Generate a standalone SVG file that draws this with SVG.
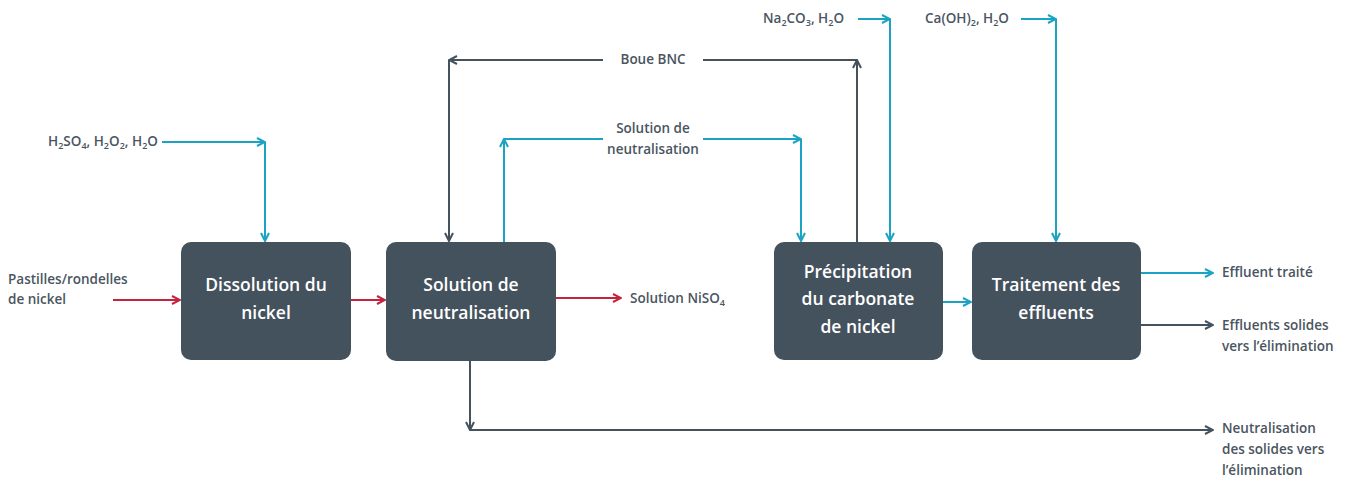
<svg xmlns="http://www.w3.org/2000/svg" width="1353" height="481" viewBox="0 0 1353 481">
<style>
.box{fill:#44525e}
.bt{font-family:"Open Sans","Liberation Sans",sans-serif;font-weight:600;font-size:17.5px;fill:#ffffff;text-anchor:middle}
.lb{font-family:"Open Sans","Liberation Sans",sans-serif;font-weight:600;font-size:13.5px;fill:#4a555f}
.sub{font-size:9px}
.red{stroke:#c4223f;stroke-width:2;fill:none}
.blue{stroke:#1ba3c4;stroke-width:2;fill:none}
.grey{stroke:#44525e;stroke-width:2;fill:none}
</style>
<defs>
<marker id="ar" viewBox="0 0 10 10" refX="9" refY="5" markerWidth="10" markerHeight="10" markerUnits="userSpaceOnUse" orient="auto"><path d="M1,1 L9,5 L1,9" fill="none" stroke="#c4223f" stroke-width="2"/></marker>
<marker id="ab" viewBox="0 0 10 10" refX="9" refY="5" markerWidth="10" markerHeight="10" markerUnits="userSpaceOnUse" orient="auto"><path d="M1,1 L9,5 L1,9" fill="none" stroke="#1ba3c4" stroke-width="2"/></marker>
<marker id="ag" viewBox="0 0 10 10" refX="9" refY="5" markerWidth="10" markerHeight="10" markerUnits="userSpaceOnUse" orient="auto"><path d="M1,1 L9,5 L1,9" fill="none" stroke="#44525e" stroke-width="2"/></marker>
</defs>
<rect width="1353" height="481" fill="#ffffff"/>

<g id="connectors">
<line class="red" x1="113" y1="300" x2="180" y2="300" marker-end="url(#ar)"/>
<line class="red" x1="351" y1="300" x2="385" y2="300" marker-end="url(#ar)"/>
<line class="red" x1="556" y1="298" x2="621" y2="298" marker-end="url(#ar)"/>
<line class="blue" x1="162" y1="142" x2="265" y2="142" marker-end="url(#ab)"/>
<line class="blue" x1="265" y1="142" x2="265" y2="241" marker-end="url(#ab)"/>
<line class="grey" x1="857" y1="242" x2="857" y2="60" marker-end="url(#ag)"/>
<line class="grey" x1="857" y1="60" x2="703" y2="60"/>
<line class="grey" x1="603" y1="60" x2="449" y2="60" marker-end="url(#ag)"/>
<line class="grey" x1="449" y1="60" x2="449" y2="241" marker-end="url(#ag)"/>
<line class="blue" x1="504" y1="242" x2="504" y2="139" marker-end="url(#ab)"/>
<line class="blue" x1="504" y1="139" x2="603" y2="139"/>
<line class="blue" x1="703" y1="139" x2="801" y2="139" marker-end="url(#ab)"/>
<line class="blue" x1="801" y1="139" x2="801" y2="241" marker-end="url(#ab)"/>
<line class="blue" x1="858" y1="19" x2="890" y2="19" marker-end="url(#ab)"/>
<line class="blue" x1="890" y1="19" x2="890" y2="241" marker-end="url(#ab)"/>
<line class="blue" x1="1021" y1="19" x2="1056" y2="19" marker-end="url(#ab)"/>
<line class="blue" x1="1056" y1="19" x2="1056" y2="241" marker-end="url(#ab)"/>
<line class="blue" x1="943" y1="302" x2="971" y2="302" marker-end="url(#ab)"/>
<line class="blue" x1="1141" y1="273" x2="1213" y2="273" marker-end="url(#ab)"/>
<line class="grey" x1="1141" y1="325" x2="1213" y2="325" marker-end="url(#ag)"/>
<line class="grey" x1="470" y1="361" x2="470" y2="430" marker-end="url(#ag)"/>
<line class="grey" x1="470" y1="430" x2="1213" y2="430" marker-end="url(#ag)"/>
</g>

<g id="labels">
<text class="lb" x="8" y="284">Pastilles/rondelles</text>
<text class="lb" x="8" y="304">de nickel</text>
<text class="lb" x="48" y="146">H<tspan class="sub" dy="3">2</tspan><tspan dy="-3">SO</tspan><tspan class="sub" dy="3">4</tspan><tspan dy="-3">, H</tspan><tspan class="sub" dy="3">2</tspan><tspan dy="-3">O</tspan><tspan class="sub" dy="3">2</tspan><tspan dy="-3">, H</tspan><tspan class="sub" dy="3">2</tspan><tspan dy="-3">O</tspan></text>
<text class="lb" x="630" y="303">Solution NiSO<tspan class="sub" dy="3">4</tspan></text>
<text class="lb" x="653" y="64" text-anchor="middle">Boue BNC</text>
<text class="lb" x="653" y="133" text-anchor="middle">Solution de</text>
<text class="lb" x="653" y="154" text-anchor="middle">neutralisation</text>
<text class="lb" x="763" y="23">Na<tspan class="sub" dy="3">2</tspan><tspan dy="-3">CO</tspan><tspan class="sub" dy="3">3</tspan><tspan dy="-3">, H</tspan><tspan class="sub" dy="3">2</tspan><tspan dy="-3">O</tspan></text>
<text class="lb" x="925" y="23">Ca(OH)<tspan class="sub" dy="3">2</tspan><tspan dy="-3">, H</tspan><tspan class="sub" dy="3">2</tspan><tspan dy="-3">O</tspan></text>
<text class="lb" x="1222" y="277">Effluent traité</text>
<text class="lb" x="1222" y="330">Effluents solides</text>
<text class="lb" x="1222" y="351">vers l’élimination</text>
<text class="lb" x="1222" y="433">Neutralisation</text>
<text class="lb" x="1222" y="454">des solides vers</text>
<text class="lb" x="1222" y="475">l’élimination</text>
</g>

<g id="dissolution">
<rect class="box" x="181" y="242" width="170" height="118" rx="10"/>
<text class="bt" x="266" y="291">Dissolution du</text>
<text class="bt" x="266" y="319">nickel</text>
</g>
<g id="neutralisation">
<rect class="box" x="386" y="242" width="170" height="119" rx="10"/>
<text class="bt" x="471" y="291">Solution de</text>
<text class="bt" x="471" y="319">neutralisation</text>
</g>
<g id="precipitation">
<rect class="box" x="774" y="242" width="169" height="118" rx="10"/>
<text class="bt" x="858" y="278">Précipitation</text>
<text class="bt" x="858" y="305">du carbonate</text>
<text class="bt" x="858" y="333">de nickel</text>
</g>
<g id="traitement">
<rect class="box" x="972" y="242" width="169" height="118" rx="10"/>
<text class="bt" x="1056" y="291">Traitement des</text>
<text class="bt" x="1056" y="319">effluents</text>
</g>
</svg>
